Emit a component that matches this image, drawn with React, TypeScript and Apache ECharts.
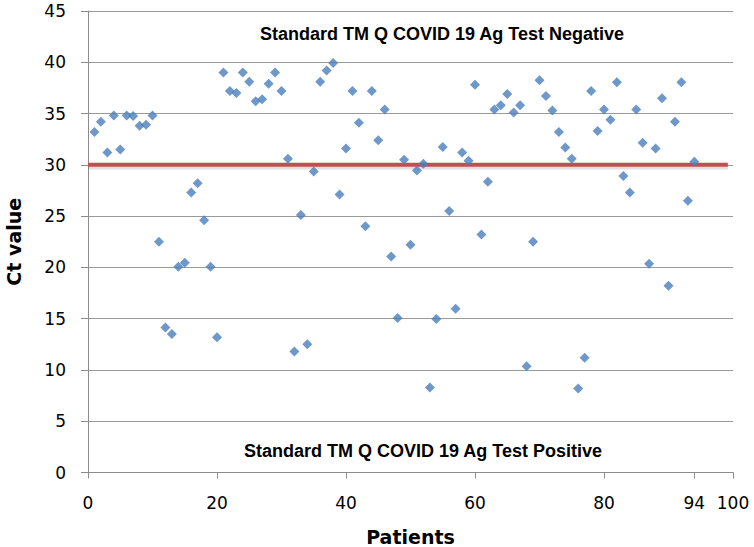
import React, { useEffect, useRef } from "react";
import * as echarts from "echarts";

const patients: number[] = Array.from({ length: 94 }, (_, i) => i + 1);
const ctValues: number[] = [
  33.2, 34.2, 31.2, 34.8, 31.5, 34.8, 34.75, 33.8, 33.9, 34.8,
  22.5, 14.15, 13.5, 20.06, 20.45, 27.3, 28.2, 24.6, 20.06, 13.2,
  39.0, 37.2, 37.0, 39.0, 38.1, 36.2, 36.4, 37.9, 39.0, 37.2,
  30.6, 11.8, 25.1, 12.5, 29.35, 38.1, 39.2, 39.94, 27.1, 31.6,
  37.2, 34.1, 24.0, 37.2, 32.4, 35.4, 21.07, 15.06, 30.5, 22.2,
  29.45, 30.1, 8.3, 14.96, 31.75, 25.5, 15.97, 31.2, 30.4, 37.8,
  23.2, 28.35, 35.4, 35.8, 36.9, 35.1, 35.8, 10.35, 22.5, 38.25,
  36.7, 35.3, 33.2, 31.7, 30.6, 8.2, 11.2, 37.2, 33.3, 35.4,
  34.4, 38.06, 28.9, 27.3, 35.4, 32.15, 20.35, 31.6, 36.5, 18.2,
  34.2, 38.06, 26.5, 30.3,
];
const xTickValues: number[] = [0, 20, 40, 60, 80, 94, 100];
const thresholdValue = 30;
const thresholdEnd = 99.2;
const negativeLabel = "Standard TM Q COVID 19 Ag Test Negative";
const positiveLabel = "Standard TM Q COVID 19 Ag Test Positive";

export default function App() {
  const ref = useRef<HTMLDivElement>(null);
  useEffect(() => {
    if (!ref.current) return;
    const chart = echarts.init(ref.current, null, { renderer: "svg" });
    const gray = "#8c8c8c";
    chart.setOption({
      animation: false,
      backgroundColor: "#ffffff",
      grid: {
        left: 88,
        right: 21,
        top: 11,
        bottom: 74.5,
        containLabel: false,
        outerBoundsMode: "none",
      },
      xAxis: {
        type: "value",
        min: 0,
        max: 100,
        name: "Patients",
        nameLocation: "middle",
        nameGap: 55,
        nameTextStyle: { fontFamily: "DejaVu Sans", fontWeight: "bold", fontSize: 19, color: "#000" },
        axisLine: { show: true, lineStyle: { color: gray, width: 1 } },
        axisTick: { show: true, length: 6, customValues: xTickValues, lineStyle: { color: gray } },
        axisLabel: {
          customValues: xTickValues,
          margin: 22,
          fontFamily: "DejaVu Sans",
          fontSize: 17,
          color: "#000",
        },
        splitLine: { show: false },
      },
      yAxis: {
        type: "value",
        min: 0,
        max: 45,
        interval: 5,
        name: "Ct value",
        nameLocation: "middle",
        nameGap: 65,
        nameTextStyle: { fontFamily: "DejaVu Sans", fontWeight: "bold", fontSize: 19, color: "#000" },
        axisLine: { show: true, lineStyle: { color: gray, width: 1 } },
        axisTick: { show: true, length: 7, lineStyle: { color: gray } },
        axisLabel: { margin: 22, fontFamily: "DejaVu Sans", fontSize: 17, color: "#000" },
        splitLine: { show: true, lineStyle: { color: "#9a9a9a", width: 1 } },
      },
      graphic: [
        {
          type: "text",
          x: 442,
          y: 34,
          style: {
            text: negativeLabel,
            fontFamily: "Liberation Sans",
            fontWeight: "bold",
            fontSize: 18,
            fill: "#000",
            textAlign: "center",
            textVerticalAlign: "middle",
          },
        },
        {
          type: "text",
          x: 423,
          y: 451,
          style: {
            text: positiveLabel,
            fontFamily: "Liberation Sans",
            fontWeight: "bold",
            fontSize: 18,
            fill: "#000",
            textAlign: "center",
            textVerticalAlign: "middle",
          },
        },
      ],
      series: [
        {
          type: "line",
          data: [
            [0, thresholdValue - 0.2],
            [thresholdEnd, thresholdValue - 0.2],
          ],
          symbol: "none",
          silent: true,
          z: 1,
          lineStyle: { color: "rgba(0,0,0,0.12)", width: 5 },
        },
        {
          type: "line",
          data: [
            [0, thresholdValue],
            [thresholdEnd, thresholdValue],
          ],
          symbol: "none",
          z: 2,
          lineStyle: { color: "#c0504d", width: 4 },
        },
        {
          type: "scatter",
          data: patients.map((p, i) => [p, ctValues[i]]),
          symbol: "diamond",
          symbolSize: 10,
          z: 3,
          itemStyle: { color: "#4a7ebb" },
        },
      ],
    });
    return () => chart.dispose();
  }, []);
  return (
    <div
      ref={ref}
      style={{ position: "fixed", left: 0, top: 0, width: 754, height: 547, background: "#fff" }}
    />
  );
}
